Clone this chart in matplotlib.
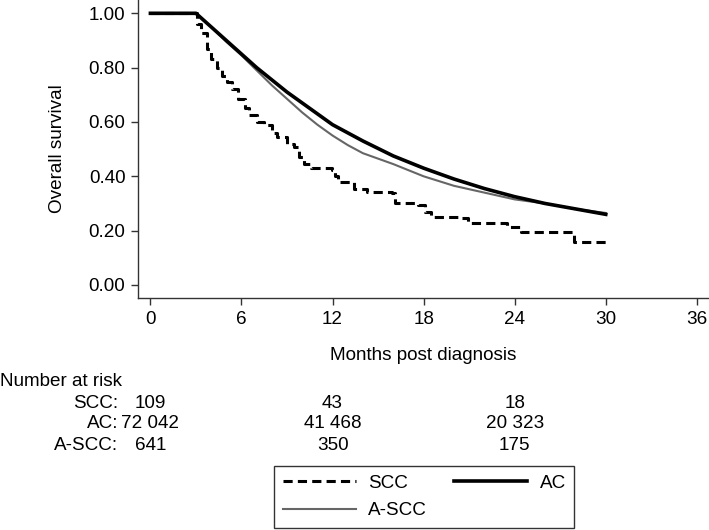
import numpy as np
import matplotlib
matplotlib.use("Agg")
import matplotlib.pyplot as plt
from matplotlib.transforms import blended_transform_factory

plt.rcParams['font.family'] = ['Liberation Sans', 'DejaVu Sans']
plt.rcParams['font.size'] = 13.6

# Kaplan-Meier curves (months, survival)
scc_t = [0, 3.0, 3.1, 3.3, 3.7, 4.0, 4.4, 4.7, 5.05, 5.4, 5.8, 6.2, 6.5, 7.0, 7.5,
         8.0, 8.35, 9.0, 9.45, 9.8, 10.1, 10.55, 11.95, 12.15, 12.35, 13.4, 14.3,
         15.9, 16.1, 17.6, 18.1, 18.5, 20.4, 20.9, 23.5, 24.4, 27.2, 27.9, 30.0]
scc_s = [1.0, 1.0, 0.96, 0.926, 0.87, 0.83, 0.80, 0.77, 0.747, 0.72, 0.686, 0.65, 0.625,
         0.60, 0.588, 0.56, 0.545, 0.52, 0.508, 0.47, 0.447, 0.429, 0.423, 0.40, 0.38,
         0.355, 0.343, 0.337, 0.30, 0.294, 0.27, 0.251, 0.245, 0.227, 0.214, 0.196,
         0.196, 0.159, 0.159]

ac_t = [0, 3, 4, 5, 6, 7, 8, 9, 10, 11, 12, 14, 16, 18, 20, 22, 24, 26, 28, 30]
ac_s = [1.0, 1.0, 0.95, 0.90, 0.85, 0.80, 0.755, 0.71, 0.67, 0.63, 0.59, 0.53,
        0.475, 0.43, 0.39, 0.355, 0.325, 0.30, 0.28, 0.26]

ascc_t = [0, 3, 4, 5, 6, 7, 8, 9, 10, 11, 12, 13, 14, 15, 16, 18, 20, 22, 24, 26, 28, 30]
ascc_s = [1.0, 1.0, 0.95, 0.895, 0.845, 0.79, 0.735, 0.685, 0.635, 0.59, 0.55, 0.515,
          0.485, 0.465, 0.445, 0.40, 0.365, 0.34, 0.315, 0.30, 0.28, 0.265]

risk_groups = ['SCC:', 'AC:', 'A-SCC:']
risk_times = [0, 12, 24]
risk_counts = [['109', '43', '18'],
               ['72 042', '41 468', '20 323'],
               ['641', '350', '175']]

fig = plt.figure(figsize=(7.09, 5.30), dpi=100)
ax = fig.add_axes([0.1946, 0.4377, 0.8054, 0.5623])

ax.plot(scc_t, scc_s, color='black', lw=2.2, ls=(0, (3.0, 1.7)), drawstyle='steps-post', label='SCC')
ax.plot(ascc_t, ascc_s, color='#666666', lw=1.5, label='A-SCC')
ax.plot(ac_t, ac_s, color='black', lw=2.6, label='AC')

ax.set_xlim(-0.82, 36.8)
ax.set_ylim(-0.048, 1.049)
ax.set_xticks([0, 6, 12, 18, 24, 30, 36])
ax.set_yticks([0, 0.2, 0.4, 0.6, 0.8, 1.0])
ax.set_yticklabels(['0.00', '0.20', '0.40', '0.60', '0.80', '1.00'])
ax.tick_params(direction='out', length=5, width=1, color='#333333', pad=4)
for side in ['top', 'right']:
    ax.spines[side].set_visible(False)
for side in ['left', 'bottom']:
    ax.spines[side].set_color('#333333')
    ax.spines[side].set_linewidth(1)

ax.set_ylabel('Overall survival', labelpad=16)
ax.set_xlabel('Months post diagnosis', labelpad=14)

# number at risk table
tr = blended_transform_factory(ax.transData, fig.transFigure)
fig.text(0.0, (530 - 381) / 530, 'Number at risk', ha='left', va='center')
row_y = [403, 424, 446]
for i, g in enumerate(risk_groups):
    y = (530 - row_y[i]) / 530
    fig.text(118 / 709, y, g, ha='right', va='center')
    for j, t in enumerate(risk_times):
        ax.text(t, y, risk_counts[i][j], ha='center', va='center', transform=tr)

h, l = ax.get_legend_handles_labels()
leg = fig.legend(h, l, ncol=2, loc='upper left',
                 bbox_to_anchor=(274 / 709, (530 - 466) / 530),
                 borderaxespad=0, frameon=True, fancybox=False, edgecolor='black',
                 handlelength=3.9, handletextpad=0.65, columnspacing=1.4,
                 labelspacing=0.55, borderpad=0.45)
leg.get_frame().set_linewidth(1)

fig.savefig('out.png', dpi=100)
